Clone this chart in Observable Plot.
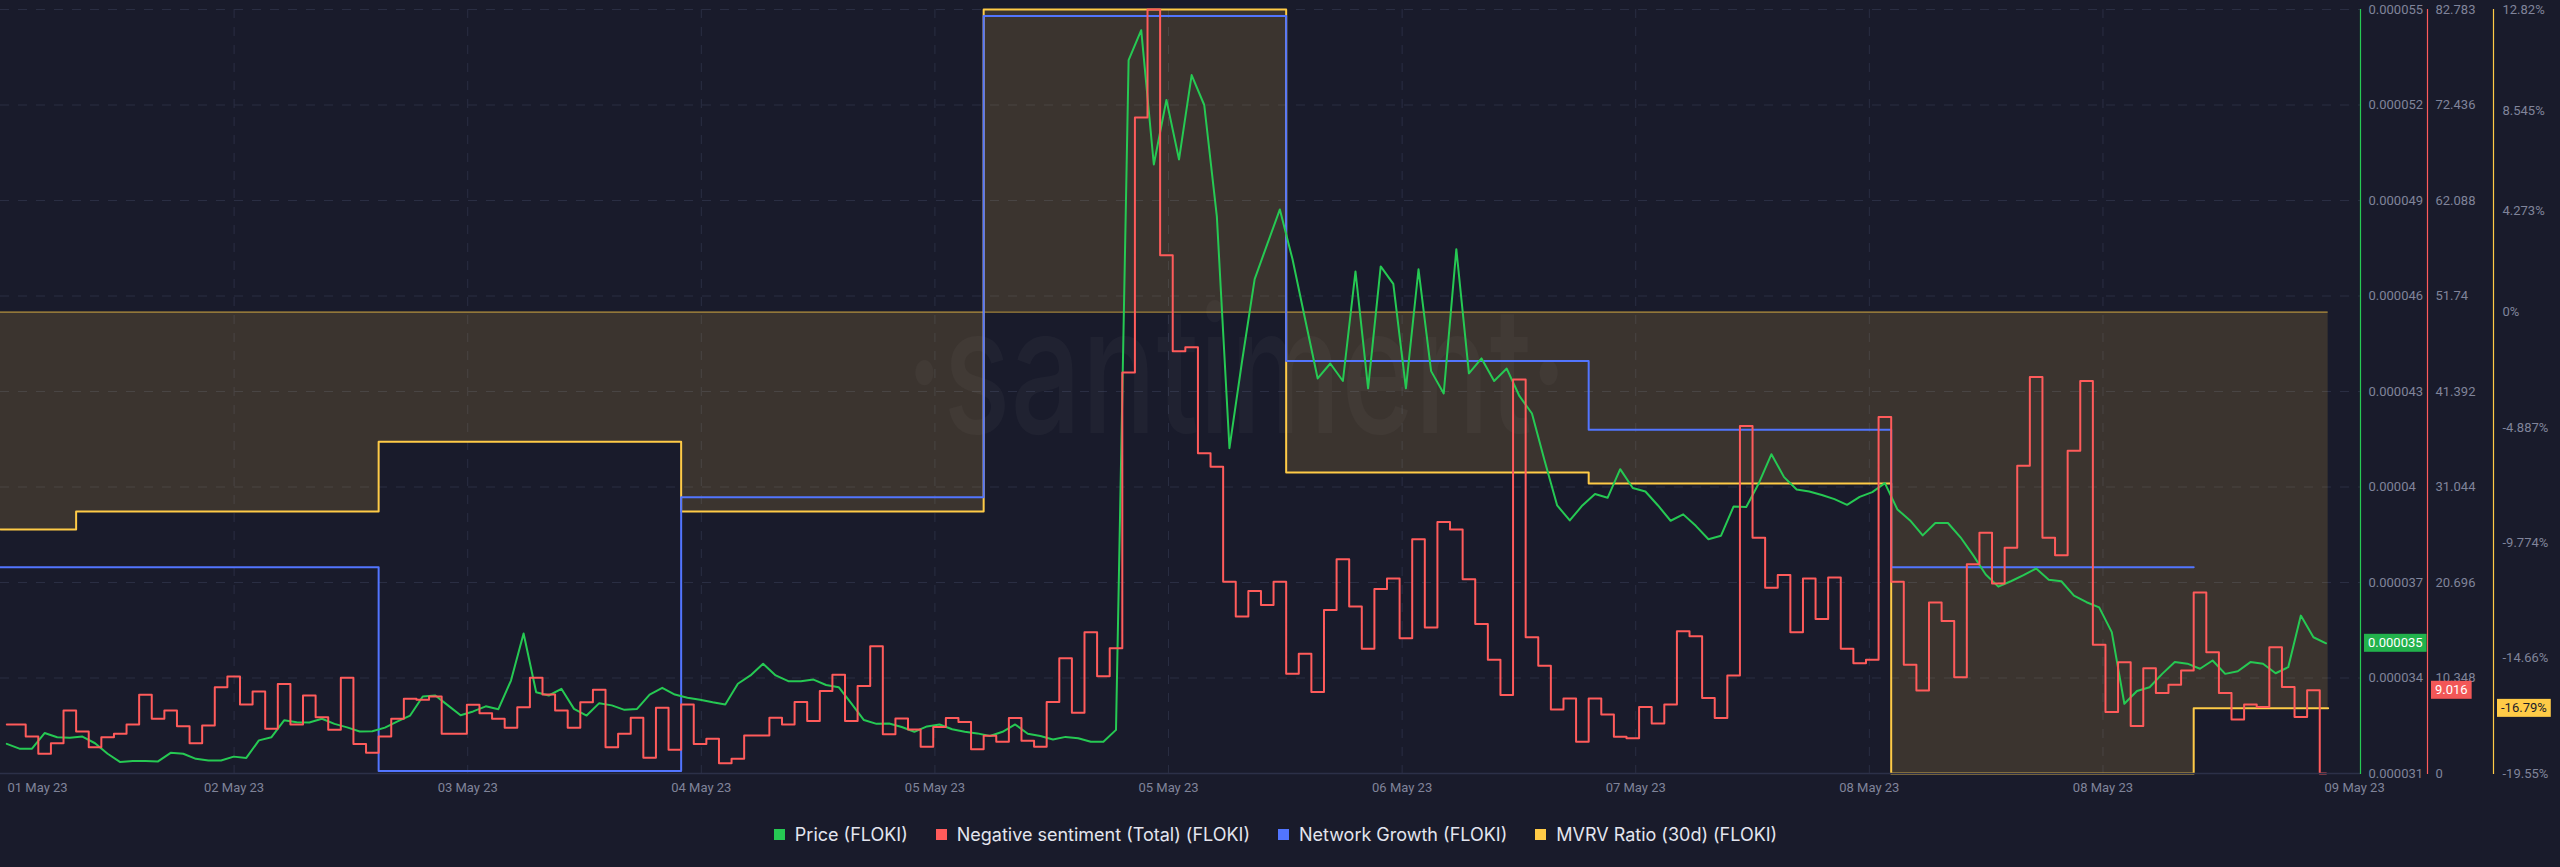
<!DOCTYPE html>
<html>
<head>
<meta charset="utf-8">
<script src="https://cdn.jsdelivr.net/npm/d3@7"></script>
<script src="https://cdn.jsdelivr.net/npm/@observablehq/plot@0.6"></script>
<style>
  html, body { margin: 0; padding: 0; background: #191b2b; width: 2560px; height: 867px; overflow: hidden; }
  #chart svg { display: block; }
  .legend { display: flex; justify-content: center; align-items: center; height: 48px; padding-right: 9px;
            font-family: Inter, "Noto Sans", sans-serif; font-size: 18px; color: #e3e5ee; }
  .legend .item { display: flex; align-items: center; margin: 0 14px; }
  .legend .sw { display: inline-block; width: 11px; height: 11px; margin-right: 10px; }
</style>
</head>
<body>
<div id="chart"></div>
<div class="legend" id="legend"></div>
<script>
// ---------------- data ----------------
const xDomain = ["2023-05-01T23:00Z", "2023-05-09T18:14Z"];
const hourlyStart = "2023-05-01T23:30Z";

// Price (FLOKI), USD, hourly, in units of 0.000001
const priceMicro = [
  31.93, 31.78, 31.78, 32.27, 32.14, 32.12, 32.16, 31.95, 31.62, 31.36,
  31.39, 31.39, 31.38, 31.65, 31.62, 31.46, 31.41, 31.41, 31.53, 31.49,
  32.04, 32.14, 32.67, 32.61, 32.60, 32.72, 32.56, 32.45, 32.32, 32.33,
  32.44, 32.64, 32.82, 33.42, 33.45, 33.14, 32.83, 32.95, 33.11, 33.02,
  33.92, 35.40, 33.55, 33.45, 33.66, 33.03, 32.82, 33.21, 33.14, 33.00,
  33.03, 33.48, 33.69, 33.48, 33.38, 33.32, 33.24, 33.17, 33.82, 34.08,
  34.45, 34.08, 33.90, 33.90, 33.95, 33.78, 33.71, 33.20, 32.68, 32.56,
  32.57, 32.46, 32.31, 32.48, 32.54, 32.39, 32.31, 32.26, 32.18, 32.31,
  32.54, 32.25, 32.18, 32.07, 32.15, 32.11, 32.00, 32.00, 32.37, 53.41,
  54.35, 50.13, 52.16, 50.29, 52.94, 52.00, 48.50, 41.22, 43.95, 46.53,
  47.63, 48.72, 47.16, 45.28, 43.41, 43.88, 43.33, 46.77, 43.10, 46.93,
  46.38, 43.10, 46.84, 43.64, 42.94, 47.47, 43.57, 44.04, 43.33, 43.72,
  42.86, 42.31, 40.83, 39.42, 38.95, 39.42, 39.78, 39.66, 40.56, 39.97,
  39.86, 39.42, 38.94, 39.14, 38.78, 38.36, 38.47, 39.39, 39.37, 40.12,
  41.03, 40.31, 39.92, 39.86, 39.75, 39.62, 39.44, 39.69, 39.84, 40.12,
  39.29, 38.95, 38.48, 38.87, 38.87, 38.42, 37.86, 37.25, 36.87, 37.04,
  37.23, 37.44, 37.09, 37.04, 36.59, 36.38, 36.22, 35.44, 33.19, 33.59,
  33.71, 34.13, 34.50, 34.45, 34.29, 34.55, 34.13, 34.21, 34.50, 34.45,
  34.15, 34.34, 35.96, 35.28, 35.09
];

// Negative sentiment (Total) (FLOKI), hourly
const negSentiment = [
  5.31, 5.31, 4.01, 2.13, 3.29, 6.83, 4.55, 2.85, 3.94, 4.30,
  5.31, 8.52, 5.92, 6.83, 5.13, 3.29, 5.20, 9.35, 10.51, 7.48,
  8.88, 4.84, 9.71, 5.31, 8.45, 6.10, 4.73, 10.37, 3.21, 2.24,
  4.01, 5.92, 8.09, 7.98, 8.34, 4.30, 4.30, 7.44, 6.53, 5.92,
  4.95, 7.19, 10.37, 8.56, 6.83, 4.95, 7.73, 9.07, 2.85, 4.30,
  6.03, 1.70, 7.12, 2.57, 7.48, 3.21, 3.76, 1.12, 1.59, 4.12,
  4.12, 6.03, 5.32, 7.75, 5.70, 8.94, 10.71, 5.70, 9.47, 13.78,
  4.25, 5.97, 4.78, 2.89, 5.05, 6.02, 5.59, 2.62, 4.08, 3.43,
  6.02, 3.54, 2.89, 7.75, 12.49, 6.57, 15.30, 10.55, 13.57, 43.44,
  71.09, 82.78, 56.16, 45.75, 46.18, 34.70, 33.24, 20.79, 17.02, 19.77,
  18.26, 20.79, 10.82, 12.98, 8.83, 17.72, 23.22, 18.09, 13.51, 19.98,
  21.12, 14.65, 25.38, 15.83, 27.26, 26.45, 21.06, 16.21, 12.33, 8.51,
  42.68, 14.76, 11.68, 6.93, 8.13, 3.43, 8.13, 6.40, 3.98, 3.81,
  7.21, 5.43, 7.48, 15.41, 14.87, 8.18, 6.02, 10.61, 37.66, 25.54,
  20.14, 21.50, 15.30, 21.12, 16.75, 21.23, 13.51, 11.95, 12.33, 38.64,
  20.79, 11.79, 8.99, 18.53, 16.53, 10.44, 22.68, 26.08, 20.58, 24.45,
  33.35, 42.95, 25.54, 23.65, 34.97, 42.52, 13.94, 6.67, 12.06, 5.16,
  11.41, 8.72, 9.63, 11.15, 19.61, 13.14, 8.72, 5.86, 7.48, 7.21,
  13.67, 9.36, 6.13, 9.016, 0
];

// Daily series
const dailyDates = ["2023-05-01T23:00Z", "2023-05-02T05:00Z", "2023-05-03T05:00Z", "2023-05-04T05:00Z",
  "2023-05-05T05:00Z", "2023-05-06T05:00Z", "2023-05-07T05:00Z", "2023-05-08T05:00Z", "2023-05-09T05:00Z",
  "2023-05-09T15:40Z"];
const mvrvPct = [-9.21, -8.45, -5.49, -8.45, 12.82, -6.80, -7.26, -19.55, -16.79, -16.79];
const networkGrowth = [410, 410, 253, 464, 835, 569, 516, 410, 410];

// Axes
const priceTicks = [0.000055, 0.000052, 0.000049, 0.000046, 0.000043, 0.00004, 0.000037, 0.000034, 0.000031];
const priceTickLabels = ["0.000055", "0.000052", "0.000049", "0.000046", "0.000043", "0.00004", "0.000037", "0.000034", "0.000031"];
const sentTicks = [82.783, 72.436, 62.088, 51.74, 41.392, 31.044, 20.696, 10.348, 0];
const sentTickLabels = ["82.783", "72.436", "62.088", "51.74", "41.392", "31.044", "20.696", "10.348", "0"];
const mvrvTicks = [12.82, 8.545, 4.273, 0, -4.887, -9.774, -14.66, -19.55];
const mvrvTickLabels = ["12.82%", "8.545%", "4.273%", "0%", "-4.887%", "-9.774%", "-14.66%", "-19.55%"];
const xTickDates = ["2023-05-01T23:00Z", "2023-05-02T17:32Z", "2023-05-03T12:04Z", "2023-05-04T06:36Z",
  "2023-05-05T01:08Z", "2023-05-05T19:40Z", "2023-05-06T14:12Z", "2023-05-07T08:44Z", "2023-05-08T03:16Z",
  "2023-05-08T21:48Z", "2023-05-09T17:46Z"];
const xTickLabels = ["01 May 23", "02 May 23", "03 May 23", "04 May 23", "05 May 23", "05 May 23",
  "06 May 23", "07 May 23", "08 May 23", "08 May 23", "09 May 23"];

const seriesNames = ["Price (FLOKI)", "Negative sentiment (Total) (FLOKI)", "Network Growth (FLOKI)", "MVRV Ratio (30d) (FLOKI)"];
const seriesColors = ["#26c953", "#ff5b5b", "#5275ff", "#ffcb47"];
const lastLabels = ["0.000035", "9.016", "-16.79%"];

// ---------------- build ----------------
const [cPrice, cSent, cNG, cMVRV] = seriesColors;
const P_MIN = 0.000031, P_MAX = 0.000055;
const S_MAX = 82.783;
const M_MIN = -19.55, M_MAX = 12.82;
const NG_MIN = 251, NG_MAX = 840;
const nP = v => (v - P_MIN) / (P_MAX - P_MIN);
const nS = v => v / S_MAX;
const nM = v => (v - M_MIN) / (M_MAX - M_MIN);
const nN = v => (v - NG_MIN) / (NG_MAX - NG_MIN);

const t0 = new Date(hourlyStart);
const priceRows = priceMicro.map((v, i) => ({date: d3.utcHour.offset(t0, i), v: v * 1e-6}));
const sentRows = negSentiment.map((v, i) => ({date: d3.utcHour.offset(t0, i), v}));
const mvrvRows = mvrvPct.map((v, i) => ({date: new Date(dailyDates[i]), v}));
const ngRows = networkGrowth.map((v, i) => ({date: new Date(dailyDates[i]), v}));
const xTicks = xTickDates.map(d => new Date(d));
const xLabelOf = new Map(xTicks.map((d, i) => [+d, xTickLabels[i]]));

const W = 2560, H = 810, BOTTOM = 773, TOP = 9, MR = 200;
const gridColor = "#2a2e43";
const textColor = "#80849a";

const axisOpts = (ticks, labels, norm, dx, pad) => {
  const m = new Map(ticks.map((t, i) => [norm(t), labels[i]]));
  return Plot.axisY(ticks.map(norm), {
    anchor: "right", tickSize: 0, tickPadding: pad, dx,
    tickFormat: d => m.get(d), fill: textColor, fontSize: 13
  });
};

const chart = Plot.plot({
  width: W, height: H,
  marginLeft: 0, marginRight: MR, marginTop: TOP, marginBottom: H - BOTTOM,
  style: {background: "transparent", color: textColor, fontFamily: "Roboto, 'Noto Sans', sans-serif", fontSize: "13px"},
  x: {type: "utc", domain: xDomain.map(d => new Date(d)), axis: null},
  y: {domain: [0, 1], axis: null},
  marks: [
    Plot.gridY(priceTicks.slice(0, -1).map(nP), {stroke: gridColor, strokeOpacity: 1, strokeDasharray: "9,9"}),
    Plot.gridX(xTicks.slice(1, 10), {stroke: gridColor, strokeOpacity: 1, strokeDasharray: "9,9"}),
    Plot.areaY(mvrvRows, {x: "date", y1: nM(0), y2: d => nM(d.v), curve: "step-after", fill: cMVRV, fillOpacity: 0.15}),
    Plot.text(["·santiment·"], {frameAnchor: "top-left", dx: 1236, dy: 423, textAnchor: "middle", lineAnchor: "bottom",
      fontSize: 175, fontWeight: 500, fontFamily: "Inter, sans-serif", fill: "#ffffff", fillOpacity: 0.03, className: "wm"}),
    Plot.ruleY([nM(0)], {x1: () => mvrvRows[0].date, x2: () => mvrvRows[mvrvRows.length - 1].date,
      stroke: cMVRV, strokeOpacity: 0.6, strokeWidth: 1.3}),
    Plot.line(mvrvRows, {x: "date", y: d => nM(d.v), curve: "step-after", stroke: cMVRV, strokeWidth: 2}),
    Plot.line(ngRows, {x: "date", y: d => nN(d.v), curve: "step-after", stroke: cNG, strokeWidth: 2}),
    Plot.line(priceRows, {x: "date", y: d => nP(d.v), stroke: cPrice, strokeWidth: 2}),
    Plot.line(sentRows, {x: "date", y: d => nS(d.v), curve: "step", stroke: cSent, strokeWidth: 2}),
    Plot.ruleY([0], {stroke: "#2c3048", strokeWidth: 1.5}),
    Plot.frame({anchor: "right", stroke: cPrice, strokeWidth: 1.2}),
    Plot.frame({anchor: "right", stroke: cSent, strokeWidth: 1.2, dx: 67}),
    Plot.frame({anchor: "right", stroke: cMVRV, strokeWidth: 1.2, dx: 133}),
    axisOpts(priceTicks, priceTickLabels, nP, 0, 8),
    axisOpts(sentTicks, sentTickLabels, nS, 67, 8),
    axisOpts(mvrvTicks, mvrvTickLabels, nM, 133, 9),
    Plot.axisX(xTicks.slice(1), {tickSize: 0, tickPadding: 9, tickFormat: d => xLabelOf.get(+d), fill: textColor, fontSize: 13}),
    Plot.axisX(xTicks.slice(0, 1), {tickSize: 0, tickPadding: 9, textAnchor: "start", dx: 7, tickFormat: d => xLabelOf.get(+d), fill: textColor, fontSize: 13})
  ]
});

document.getElementById("chart").appendChild(chart);

// watermark width
d3.select(chart).selectAll(".wm text").attr("textLength", 662).attr("lengthAdjust", "spacingAndGlyphs");

// last-value tags on the right axes
const ys = chart.scale("y");
const svg = d3.select(chart);
const xr = W - MR;
const tags = [
  {x: xr + 4, y: ys.apply(nP(priceRows[priceRows.length - 1].v)), text: lastLabels[0], bg: "#22b24c", fg: "#ffffff"},
  {x: xr + 71, y: ys.apply(nS(negSentiment[negSentiment.length - 2])), text: lastLabels[1], bg: "#f25757", fg: "#ffffff"},
  {x: xr + 137, y: ys.apply(nM(mvrvPct[mvrvPct.length - 1])), text: lastLabels[2], bg: "#ffcb47", fg: "#1b1d2b"}
];
for (const t of tags) {
  const g = svg.append("g").attr("font-family", "Roboto, sans-serif").attr("font-size", 13).attr("text-anchor", "start");
  const rect = g.append("rect");
  const txt = g.append("text").attr("x", t.x + 4).attr("y", t.y).attr("dy", "0.34em")
    .attr("text-anchor", "start").attr("fill", t.fg).text(t.text);
  const w = txt.node().getComputedTextLength();
  rect.attr("x", t.x).attr("y", t.y - 9).attr("width", w + 8).attr("height", 18).attr("fill", t.bg);
}

// legend
const legend = document.getElementById("legend");
seriesNames.forEach((name, i) => {
  const item = document.createElement("div");
  item.className = "item";
  const sw = document.createElement("span");
  sw.className = "sw";
  sw.style.background = seriesColors[i];
  item.appendChild(sw);
  item.appendChild(document.createTextNode(name));
  legend.appendChild(item);
});
</script>
</body>
</html>
